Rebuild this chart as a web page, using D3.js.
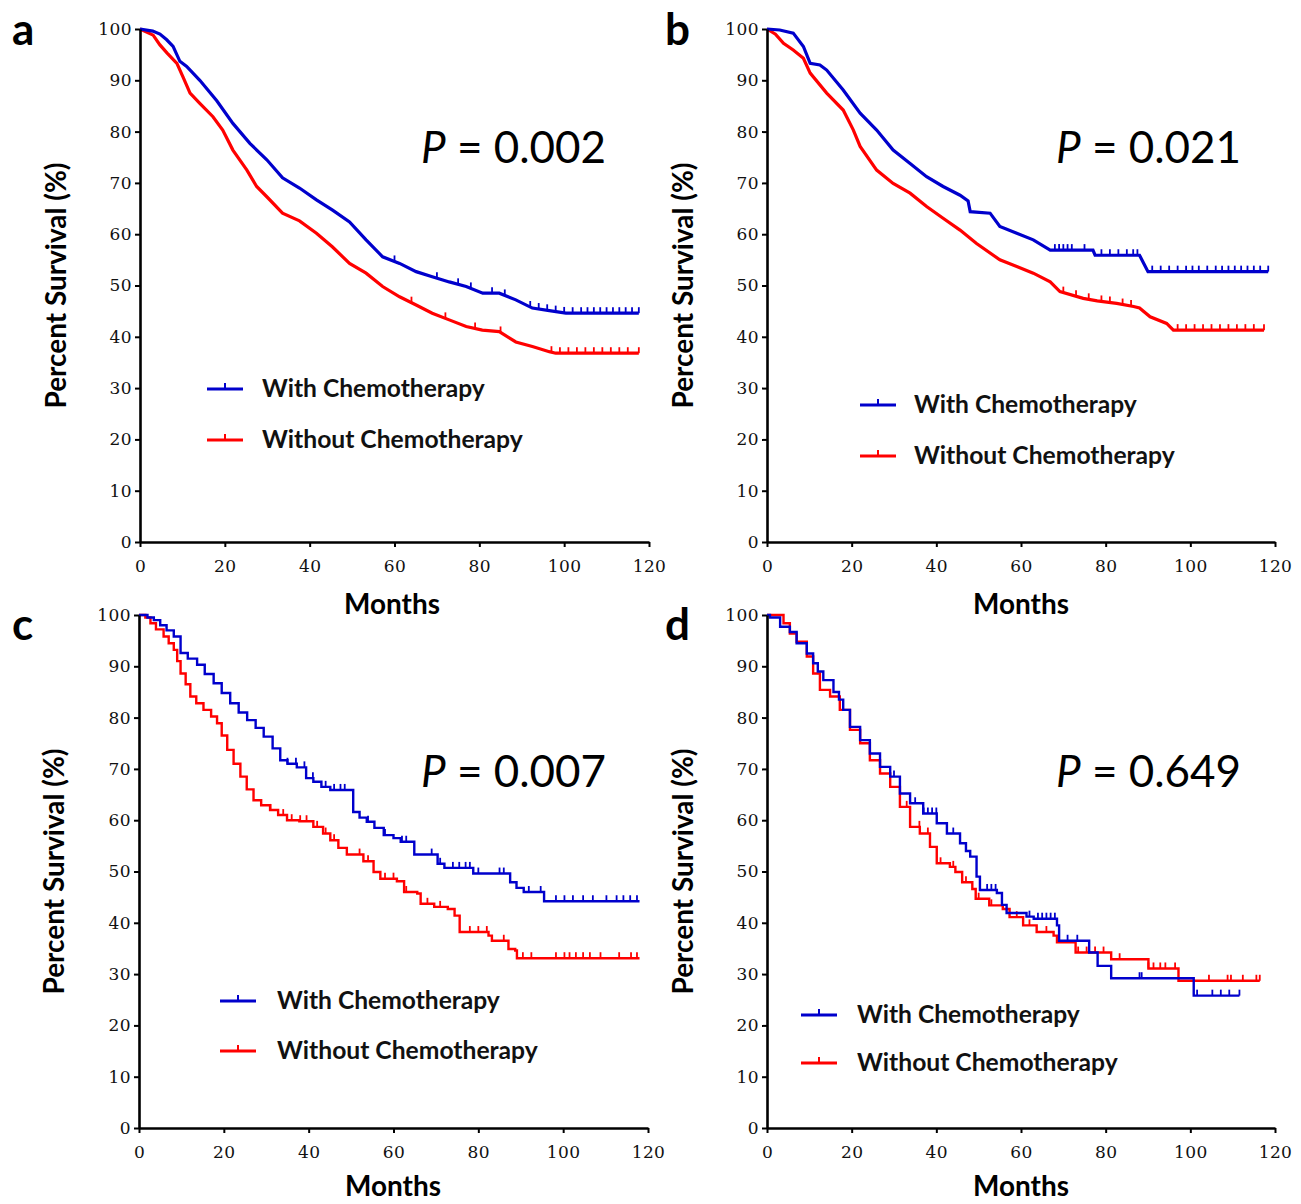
<!DOCTYPE html>
<html>
<head>
<meta charset="utf-8">
<script src="https://cdn.jsdelivr.net/npm/d3@7"></script>
<style>
  body { margin: 0; background: #fff; }
  svg text { font-family: Lato, "Open Sans", sans-serif; }
</style>
</head>
<body>
<div id="chart"></div>
<script>
// survival curves: [month, percent surviving]
var withA = [[0,100],[3,99.6],[4.7,99],[6.3,97.9],[7.8,96.6],[9.4,93.7],[11,92.7],[14.1,90],[18.1,86],[21.9,81.6],[25.9,77.7],[29.9,74.5],[33.6,71],[37.6,69],[41.6,66.7],[45.4,64.7],[49.4,62.4],[53.3,58.9],[57.2,55.6],[61.2,54.3],[65.1,52.7],[68.9,51.7],[72.9,50.7],[76.9,49.8],[80.8,48.5],[84.7,48.5],[88.6,47.2],[92.5,45.6],[96.5,45.1],[100.4,44.6],[117.6,44.6]];
var withoutA = [[0,100],[3.1,98.8],[4.7,96.9],[6.4,95.3],[8.7,93.3],[10.1,90.7],[11.8,87.5],[14.1,85.5],[17.2,82.9],[19.5,80.3],[21.9,76.4],[25.2,72.5],[27.5,69.3],[29.9,67.3],[33.6,64.1],[37.6,62.6],[41.6,60.2],[45.4,57.5],[49.4,54.3],[53.3,52.4],[57.2,49.8],[61.2,47.8],[65.1,46.2],[68.9,44.6],[72.9,43.3],[76.9,42],[80.7,41.3],[84.7,41],[88.6,39],[92.5,38.1],[96.5,37.1],[98,36.8],[117.6,36.8]];
var censorWithA = [60,70,75,78,83,86,92,94,96,98,100,102,104,105.5,107,108.5,110,111.5,113,114.5,116,117.6];
var censorWithoutA = [64,72,79,85,97,99,101,103,105,107,109,111,113,115,117.6];

var withB = [[0,100],[3,99.8],[6.2,99.2],[8.6,96.6],[10.2,93.3],[12.5,93],[14.1,92],[18,88.1],[22,83.6],[25.9,80.3],[29.8,76.4],[33.8,73.8],[37.7,71.2],[41.6,69.3],[45.6,67.6],[47.5,66.5],[48,64.4],[52.7,64.1],[55,61.5],[59,60.2],[62.9,58.9],[66.9,56.9],[77,56.9],[77.5,55.9],[88,55.9],[89,54.3],[90,52.7],[118.4,52.7]];
var withoutB = [[0,100],[2,99],[3.9,97.2],[6.2,95.9],[8.6,94.3],[10.2,91.4],[14.1,87.5],[18,84.2],[20.4,80.3],[22,77.1],[25.9,72.5],[29.8,69.9],[33.8,68],[37.7,65.4],[41.6,63.1],[45.6,60.8],[49.5,58.2],[55,55],[59,53.7],[62.9,52.4],[66.9,50.7],[69.2,48.8],[74.7,47.5],[78,47],[82.6,46.5],[86.6,45.9],[88,45.6],[90.5,43.9],[94.4,42.6],[96,41.3],[117.4,41.3]];
var censorWithB = [68,69,70,71,72,75,79,81,83,85,86.5,87.5,91,93,95,97,99,100.5,102,104,106,107.5,109,110.5,112,113.5,115,116.5,118.4];
var censorWithoutB = [70,73,76,79,81,84,86,97,99,101,103,105,107,109,111,113,115,117.4];

var withC = [[0,100],[2,99.5],[3.5,99],[5,98],[6.5,97],[8.2,95.8],[9.8,92.6],[11.5,91.5],[13.7,90.3],[15.5,88.5],[17.6,86.7],[19.5,84.8],[21.5,82.8],[23.5,81],[25.5,79.5],[27.5,78],[29.4,76.3],[31.5,74],[33.3,71.7],[35,71],[37.2,70.3],[39.4,68.2],[41.1,67.5],[43,66.5],[45.1,65.9],[50.5,61.6],[52,60.5],[53.7,59.7],[55.5,58.5],[57.7,57.1],[60,56.5],[61.7,55.8],[64.9,53.3],[70.4,51.5],[72,50.7],[78.8,49.6],[87.5,47.9],[89,46.8],[90.7,46],[95.5,44.2],[118,44.2]];
var withoutC = [[0,100],[1.5,99.5],[2.7,98.4],[4,97.2],[5.8,95.8],[7,94.5],[8.2,93.2],[9,91],[9.8,88.6],[11,86.5],[12.1,84.1],[13.5,82.8],[15.2,81.5],[17,80.2],[18.4,78.9],[19.5,76.5],[20.8,73.7],[22.3,71],[23.9,68.5],[25.4,66],[27,63.9],[28.8,62.9],[30.9,62],[32.8,61],[34.9,60],[37.8,59.8],[41.1,58.7],[43.4,57.4],[45.1,56.1],[47,54.6],[49,53.3],[52.9,52],[55.3,49.9],[56.9,48.6],[60.8,48.1],[62.5,46],[65.6,45.7],[66.4,43.7],[69.6,43.1],[72.8,42.7],[74.4,41.4],[75.6,38.2],[82.4,37.5],[83.2,36.5],[87.1,34.9],[88.7,34.6],[89.1,33.1],[118,33.1]];
var censorWithC = [35,37,39,41,44,46,47.5,48.5,54,58,62,63,69,71,74,75.5,77,78,80,85,86,91.9,94.7,98.3,100.3,102.3,104.7,107,110.2,112.6,114.2,115.8,117.4];
var censorWithoutC = [31,34,36,38,39.5,42,44,46,52,54,58,60,63,68,71,78,80,82,86,90.5,92.5,98.3,100.3,101.5,103,104.7,106.3,108.8,113.2,116,117.4];

var withD = [[0,100],[0.7,99.5],[3.1,97.7],[5.4,96.7],[7,94.5],[9.4,92.5],[10.9,90.6],[12,89],[13.3,87.3],[15.7,85],[17,83.5],[18,81.5],[19.6,78.2],[22,75.6],[24.3,73],[26.7,70.4],[29.1,68.5],[31.4,65.2],[33.8,63.3],[36.9,61.3],[40.1,59.4],[42.5,57.4],[45.6,55.5],[47,54],[48,52.9],[49.5,49],[50.3,46.4],[54.3,45.8],[55.5,43.5],[56.6,41.9],[61.3,41.2],[63,40.8],[68.5,39.5],[69,36.5],[76.1,34.2],[78.1,31.6],[81.3,29.2],[100.8,25.8],[111.6,25.8]];
var withoutD = [[0,100],[1.9,100],[3.9,98.4],[5.4,96.4],[7,94.8],[9.4,91.9],[10.9,88.6],[12.5,85.4],[14.9,84.1],[17.2,81.5],[19.6,77.6],[22,75],[24.3,71.7],[26.7,69.1],[29.1,66.5],[31.4,62.6],[33.8,58.7],[36.1,57.4],[38.5,54.8],[40.1,51.6],[43.2,50.9],[44.5,49.9],[46.1,47.9],[48.5,46.6],[49.3,44.7],[52.5,43.4],[55.7,42.7],[57.3,41.1],[60.5,39.5],[63.7,38.2],[67.7,37.5],[68.5,36.2],[72.9,34.2],[81.3,32.9],[90.1,31.1],[97.2,28.7],[116.4,28.7]];
var censorWithD = [30,35,37,38,39,40,44,47,52,53,54,62,64,65,66,67,68,71,73.3,88,88.5,101.6,105.2,107.2,109.2,111.6];
var censorWithoutD = [33,36,38,41,44,47,50,53,59,62,66,69,73.5,75.5,77.5,79.5,83.3,90.1,91.3,92.9,94.1,96.4,104.4,108.8,109.6,112.4,115.6,116.4];

var pValues = ["0.002", "0.021", "0.007", "0.649"];
var panelLetters = ["a", "b", "c", "d"];
var seriesNames = ["With Chemotherapy", "Without Chemotherapy"];
var xTicks = [0, 20, 40, 60, 80, 100, 120];
var yTicks = [0, 10, 20, 30, 40, 50, 60, 70, 80, 90, 100];

var blue = "#0000cc", red = "#ff0000";

var svg = d3
  .select("#chart")
  .append("svg")
  .attr("width", 1301)
  .attr("height", 1204);

// layout of each panel (pixel boxes), data hooked in by name
var panels = [
  { withData: withA, withoutData: withoutA, cWith: censorWithA, cWithout: censorWithoutA, step: false,
    x0: 140, x1: 649, yTop: 29, yBottom: 542, legX: 207, legY: [389, 440], textX: 262,
    pX: 421, pY: 163, letterX: 12, letterY: 45, yLabX: 57, monthsX: 392, monthsY: 614 },
  { withData: withB, withoutData: withoutB, cWith: censorWithB, cWithout: censorWithoutB, step: false,
    x0: 767, x1: 1275, yTop: 29, yBottom: 542, legX: 860, legY: [405, 456], textX: 914,
    pX: 1056, pY: 163, letterX: 665, letterY: 45, yLabX: 684, monthsX: 1021, monthsY: 614 },
  { withData: withC, withoutData: withoutC, cWith: censorWithC, cWithout: censorWithoutC, step: true,
    x0: 139, x1: 648, yTop: 615, yBottom: 1128, legX: 220, legY: [1001, 1051], textX: 277,
    pX: 421, pY: 787, letterX: 12, letterY: 640, yLabX: 55, monthsX: 393, monthsY: 1196 },
  { withData: withD, withoutData: withoutD, cWith: censorWithD, cWithout: censorWithoutD, step: true,
    x0: 767, x1: 1275, yTop: 615, yBottom: 1128, legX: 801, legY: [1015, 1063], textX: 857,
    pX: 1056, pY: 787, letterX: 665, letterY: 640, yLabX: 684, monthsX: 1021, monthsY: 1196 }
];

// scale a text's font size so it spans the wanted width
function fitText(sel, width) {
  var size = parseFloat(sel.style("font-size"));
  var len = sel.node().getComputedTextLength();
  sel.style("font-size", (size * width) / len + "px");
}

function survivalAt(data, t, step) {
  var i = d3.bisector(function (d) { return d[0]; }).right(data, t) - 1;
  i = Math.max(0, Math.min(i, data.length - 1));
  if (step || i === data.length - 1) return data[i][1];
  var a = data[i], b = data[i + 1];
  if (b[0] === a[0]) return b[1];
  return a[1] + ((b[1] - a[1]) * (t - a[0])) / (b[0] - a[0]);
}

panels.forEach(function (p, k) {
  var x = d3.scaleLinear().domain([0, 120]).range([p.x0, p.x1]);
  var y = d3.scaleLinear().domain([0, 100]).range([p.yBottom, p.yTop]);
  var lw = p.step ? 2.4 : 3.2;

  var g = svg.append("g");

  // curves, red underneath blue
  var line = d3
    .line()
    .x(function (d) { return x(d[0]); })
    .y(function (d) { return y(d[1]); })
    .curve(p.step ? d3.curveStepAfter : d3.curveLinear);

  var groups = [
    { data: p.withoutData, censor: p.cWithout, color: red },
    { data: p.withData, censor: p.cWith, color: blue }
  ];

  groups.forEach(function (s) {
    g.append("path")
      .datum(s.data)
      .attr("fill", "none")
      .attr("stroke", s.color)
      .attr("stroke-width", lw)
      .attr("stroke-linejoin", "miter")
      .attr("d", line);

    // censor ticks
    g.append("g")
      .selectAll("line")
      .data(s.censor)
      .enter()
      .append("line")
      .attr("x1", function (d) { return x(d); })
      .attr("x2", function (d) { return x(d); })
      .attr("y1", function (d) { return y(survivalAt(s.data, d, p.step)); })
      .attr("y2", function (d) { return y(survivalAt(s.data, d, p.step)) - 6; })
      .attr("stroke", s.color)
      .attr("stroke-width", 1.8);
  });

  // axes
  var xAxis = g
    .append("g")
    .attr("transform", "translate(0," + p.yBottom + ")")
    .call(d3.axisBottom(x).tickValues(xTicks).tickSize(5).tickSizeOuter(0).tickPadding(13));
  var yAxis = g
    .append("g")
    .attr("transform", "translate(" + p.x0 + ",0)")
    .call(d3.axisLeft(y).tickValues(yTicks).tickSize(5).tickSizeOuter(0).tickPadding(3));

  [xAxis, yAxis].forEach(function (ax) {
    ax.select(".domain").attr("stroke", "#000").attr("stroke-width", 2.6);
    ax.selectAll(".tick line").attr("stroke", "#000").attr("stroke-width", 2);
    ax.selectAll(".tick text")
      .style("font-family", "'DejaVu Serif', serif")
      .style("font-size", "17px")
      .style("letter-spacing", "0.4px")
      .attr("fill", "#111");
  });

  // axis titles
  var months = g
    .append("text")
    .attr("x", p.monthsX)
    .attr("y", p.monthsY)
    .attr("text-anchor", "middle")
    .style("font-weight", "bold")
    .style("font-size", "26px")
    .text("Months");
  fitText(months, 96);

  var yLab = g
    .append("text")
    .attr("transform", "translate(" + (p.yLabX + 9) + "," + (p.yTop + p.yBottom) / 2 + ") rotate(-90)")
    .attr("text-anchor", "middle")
    .style("font-weight", "bold")
    .style("font-size", "24px")
    .text("Percent Survival (%)");
  fitText(yLab, 246);

  // legend
  seriesNames.forEach(function (name, i) {
    var ly = p.legY[i];
    var col = i === 0 ? blue : red;
    g.append("line")
      .attr("x1", p.legX).attr("x2", p.legX + 36)
      .attr("y1", ly).attr("y2", ly)
      .attr("stroke", col).attr("stroke-width", 3);
    g.append("line")
      .attr("x1", p.legX + 18).attr("x2", p.legX + 18)
      .attr("y1", ly).attr("y2", ly - 6)
      .attr("stroke", col).attr("stroke-width", 2);
    var t = g
      .append("text")
      .attr("x", p.textX)
      .attr("y", ly + 8)
      .style("font-weight", "bold")
      .style("font-size", "22px")
      .attr("fill", "#111")
      .text(name);
    fitText(t, i === 0 ? 223 : 261);
  });

  // P value
  var pt = g
    .append("text")
    .attr("x", p.pX)
    .attr("y", p.pY)
    .style("font-size", "40px")
    .attr("fill", "#000");
  pt.append("tspan").style("font-style", "italic").text("P");
  pt.append("tspan").text(" = " + pValues[k]);
  fitText(pt, 185);

  // panel letter
  g.append("text")
    .attr("x", p.letterX)
    .attr("y", p.letterY)
    .style("font-weight", "bold")
    .style("font-size", "44px")
    .text(panelLetters[k]);
});
</script>
</body>
</html>
